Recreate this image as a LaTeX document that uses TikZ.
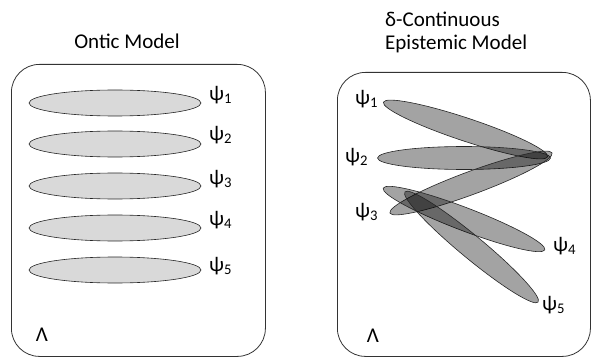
\documentclass[tikz,border=0pt]{standalone}
\usepackage{fontspec}
\setmainfont{Carlito}
\usepackage{tikz}
\usetikzlibrary{shapes.geometric}

\begin{document}
\begin{tikzpicture}[
    x=1pt, y=-1pt,
    font=\fontsize{21}{23}\selectfont,
    title/.style={align=left, inner sep=0pt},
    space/.style={draw=black!80, line width=0.8pt, rounded corners=28pt},
    onticstate/.style={ellipse, draw=black!85, line width=0.6pt, fill=black!15,
                       minimum width=172pt, minimum height=26pt, inner sep=0pt},
    epistate/.style={ellipse, draw=black!85, line width=0.6pt, fill=black, fill opacity=0.36,
                     draw opacity=1, minimum width=173pt, minimum height=23pt, inner sep=0pt},
    psilabel/.style={inner sep=0pt, anchor=west}
]
\useasboundingbox (0,0) rectangle (591,358);

% Panel (a): ontic model.
\node[title] (ontictitle) at (127,41) {Ontic Model};
\node[space, draw, minimum width=254pt, minimum height=292pt, anchor=north west] (onticbox) at (11,64) {};

\node[onticstate] (o1) at (115,103) {};
\node[onticstate] (o2) at (115,144) {};
\node[onticstate] (o3) at (115,186) {};
\node[onticstate] (o4) at (115,228) {};
\node[onticstate] (o5) at (115,270) {};

\node[psilabel] (op1) at (209,95) {ψ\textsubscript{1}};
\node[psilabel] (op2) at (209,135) {ψ\textsubscript{2}};
\node[psilabel] (op3) at (209,179) {ψ\textsubscript{3}};
\node[psilabel] (op4) at (209,220) {ψ\textsubscript{4}};
\node[psilabel] (op5) at (209,266) {ψ\textsubscript{5}};
\node[inner sep=0pt] (olambda) at (42,335) {Λ};

% Panel (b): delta-continuous epistemic model.
\node[title, anchor=west] (epititle) at (385,32) {δ-Continuous\\Epistemic Model};
\node[space, draw, minimum width=253pt, minimum height=284pt, anchor=north west] (epibox) at (337,72) {};

\node[epistate, rotate=-18.4] (e1) at (465.5,129.5) {};
\node[epistate] (e2) at (464,158) {};
\node[epistate, rotate=20.3] (e3) at (471,183) {};
\node[epistate, rotate=-20.9] (e4) at (464,219) {};
\node[epistate, rotate=-39.6] (e5) at (471.5,247) {};

\node[psilabel] (ep1) at (355,99) {ψ\textsubscript{1}};
\node[psilabel] (ep2) at (345,157) {ψ\textsubscript{2}};
\node[psilabel] (ep3) at (355,212) {ψ\textsubscript{3}};
\node[psilabel] (ep4) at (553,246) {ψ\textsubscript{4}};
\node[psilabel] (ep5) at (542,305) {ψ\textsubscript{5}};
\node[inner sep=0pt] (elambda) at (373,336) {Λ};

\end{tikzpicture}
\end{document}
